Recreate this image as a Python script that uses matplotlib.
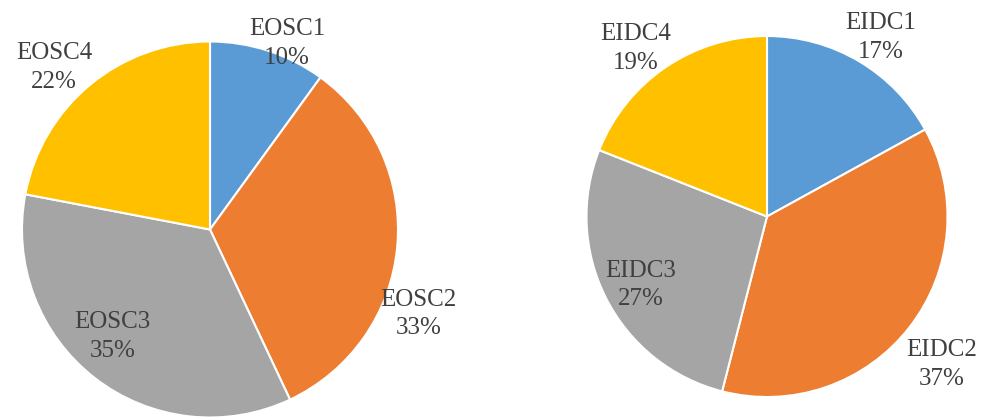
import matplotlib
matplotlib.use('Agg')
import matplotlib.pyplot as plt

# slice shares, clockwise from 12 o'clock
eosc_labels = ['EOSC1', 'EOSC2', 'EOSC3', 'EOSC4']
eosc_values = [10, 33, 35, 22]
eidc_labels = ['EIDC1', 'EIDC2', 'EIDC3', 'EIDC4']
eidc_values = [17, 37, 27, 19]

colors = ['#5B9BD5', '#ED7D31', '#A5A5A5', '#FFC000']
text_color = '#404040'

# where each label block sits, in units of the pie radius
eosc_label_pos = [(0.41, 0.99), (1.11, -0.45), (-0.52, -0.57), (-0.83, 0.86)]
eidc_label_pos = [(0.63, 0.99), (0.97, -0.82), (-0.70, -0.38), (-0.73, 0.93)]

plt.rcParams['font.family'] = ['Liberation Serif', 'DejaVu Serif']

W, H = 981, 419
fig = plt.figure(figsize=(W / 100, H / 100), dpi=100)


def pie_axes(cx, cy, r):
    # pixel centre / radius (from top-left) -> figure fraction box
    return fig.add_axes([(cx - r) / W, (H - cy - r) / H, 2 * r / W, 2 * r / H])


def draw_pie(ax, labels, values, label_pos):
    ax.pie(
        values,
        colors=colors,
        startangle=90,
        counterclock=False,
        radius=1,
        wedgeprops=dict(edgecolor='white', linewidth=1.5),
    )
    total = sum(values)
    for name, val, (x, y) in zip(labels, values, label_pos):
        ax.text(
            x, y, f'{name}\n{round(val / total * 100)}%',
            ha='center', va='center', fontsize=18,
            color=text_color, linespacing=1.4,
        )
    ax.set_xlim(-1, 1)
    ax.set_ylim(-1, 1)
    ax.axis('off')


ax = pie_axes(210, 229.5, 188)
draw_pie(ax, eosc_labels, eosc_values, eosc_label_pos)

ax = pie_axes(767, 216.5, 180.5)
draw_pie(ax, eidc_labels, eidc_values, eidc_label_pos)

fig.savefig('out.png', dpi=100)
